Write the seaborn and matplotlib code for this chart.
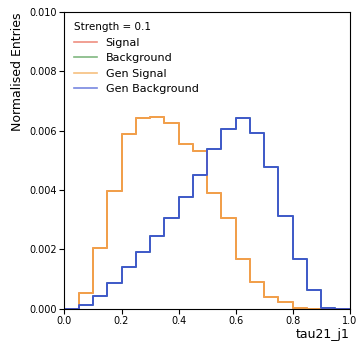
import numpy as np
import pandas as pd
import matplotlib
matplotlib.use("Agg")
import matplotlib.pyplot as plt
import seaborn as sns

bin_edges = [round(i * 0.05, 2) for i in range(21)]
signal = [0.0, 0.00053, 0.00206, 0.00398, 0.00588, 0.00644, 0.00645, 0.00625, 0.00555, 0.00533,
          0.0039, 0.00305, 0.00167, 0.00091, 0.00041, 0.00021, 0.00002, 0.0, 0.0, 0.0]
background = [0.0, 0.00011, 0.00044, 0.00088, 0.0014, 0.00192, 0.00246, 0.00305, 0.00375, 0.0045,
              0.00538, 0.00605, 0.00644, 0.00592, 0.00477, 0.00313, 0.00167, 0.00062, 0.00002, 0.0]
gen_signal = list(signal)
gen_background = list(background)

centers = [(a + b) / 2 for a, b in zip(bin_edges[:-1], bin_edges[1:])]
series = [("Signal", signal, "#e8604c"),
          ("Background", background, "#4c9a4c"),
          ("Gen Signal", gen_signal, "#f2a54a"),
          ("Gen Background", gen_background, "#3f55d4")]

fig, ax = plt.subplots(figsize=(3.58, 3.43), dpi=100)
for name, vals, col in series:
    df = pd.DataFrame({"x": centers, "w": vals})
    sns.histplot(data=df, x="x", weights="w", bins=bin_edges, element="step", fill=False,
                 color=col, linewidth=1.3, ax=ax)

ax.set_xlim(0, 1)
ax.set_ylim(0, 0.010)
ax.set_yticks(np.arange(0, 0.0101, 0.002))
ax.yaxis.set_major_formatter(matplotlib.ticker.FormatStrFormatter('%.3f'))
ax.tick_params(labelsize=7, pad=2)
ax.set_xlabel("tau21_j1", loc="right", fontsize=9, labelpad=1)
ax.set_ylabel("Normalised Entries", loc="top", fontsize=9)
handles = [matplotlib.lines.Line2D([], [], color=c, alpha=0.7, lw=1.2) for _, _, c in series]
leg = ax.legend(handles, [n for n, _, _ in series], title="Strength = 0.1", frameon=False,
                loc="upper left", fontsize=8, title_fontsize=7.5, alignment="left")
fig.subplots_adjust(left=0.18, right=0.977, top=0.965, bottom=0.1)
fig.savefig("out.png", dpi=100)
